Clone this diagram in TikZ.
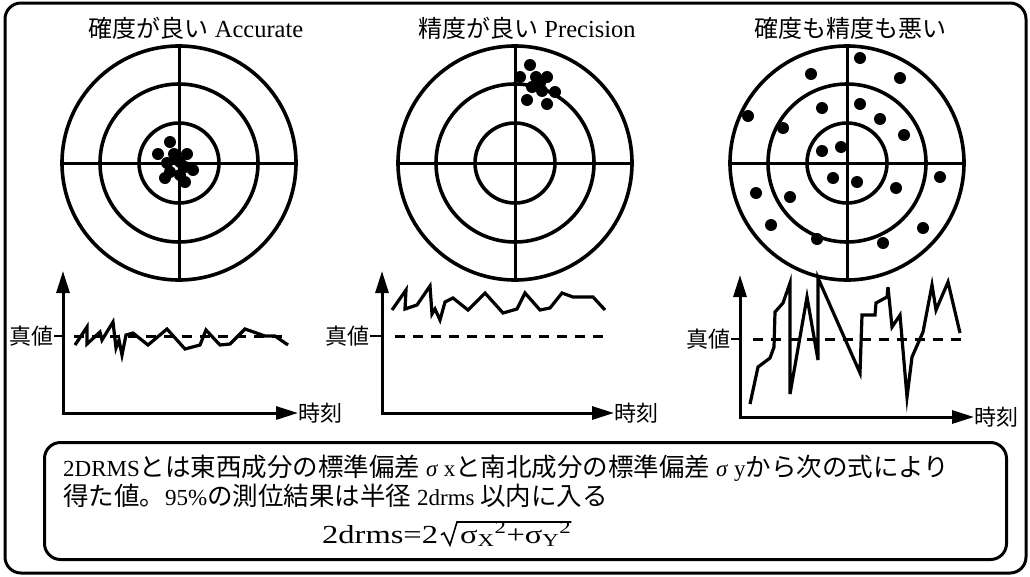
\documentclass[tikz,border=0pt]{standalone}
\usepackage{fontspec}
\setmainfont{Liberation Serif}
\newfontfamily\jp{Noto Sans CJK JP}
\newfontfamily\fserif[FakeStretch=1.25]{Liberation Serif}
\newcommand\jpt[1]{{\jp\fontsize{24}{26}\selectfont #1}}
\newcommand\jpb[1]{{\jp\fontsize{25.5}{27}\selectfont #1}}
\usetikzlibrary{arrows.meta}
\begin{document}
\begin{tikzpicture}[x=1pt,y=-1pt,
 ring/.style={line width=3.6pt},
 crossline/.style={line width=3pt},
 axisline/.style={line width=3pt,{Triangle[length=22pt,width=13pt]}-{Triangle[length=22pt,width=13pt]}},
 trace/.style={line width=3.2pt,line join=miter},
 truth/.style={line width=3pt,dash pattern=on 10pt off 8pt},
 ticktv/.style={line width=2.5pt},
 title/.style={font=\fontsize{24.5}{26}\selectfont, inner sep=0pt},
 lbl/.style={font=\jp\fontsize{22}{26}\selectfont, inner sep=0pt},
 frame/.style={line width=3pt,rounded corners=16pt},
 body/.style={font=\fontsize{23}{26}\selectfont, inner sep=0pt, anchor=base west},
 radical/.style={line width=1.6pt,line join=miter}
]
\useasboundingbox (0,0) rectangle (1030,576);
\draw[frame] (5,3) rectangle (1026,573);

% ---------- titles
\node[title] (t1) at (196,28) {\jpt{確度が良い} Accurate};
\node[title] (t2) at (527,28) {\jpt{精度が良い} Precision};
\node[title] (t3) at (850,28) {\jpt{確度も精度も悪い}};

% ---------- targets
\foreach \cx/\nm in {179/c1,515/c2,847/c3}{
  \coordinate (\nm) at (\cx,163);
  \draw[ring] (\nm) circle[radius=117pt];
  \draw[ring] (\nm) circle[radius=79pt];
  \draw[ring] (\nm) circle[radius=40pt];
  \draw[crossline] ([xshift=-117pt]\nm) -- ([xshift=117pt]\nm);
  \draw[crossline] ([yshift=117pt]\nm) -- ([yshift=-117pt]\nm);
}
% dots target 1
\foreach \p in {(170,142),(158,154),(174,154),(187,154),(167,163),(180,162),(176,158),(185,167),(193,170),(170,172),(165,178),(185,182),(180,175)}
  \fill \p circle[radius=6pt];
% dots target 2
\foreach \p in {(530,65),(520,77),(536,77),(547,77),(532,87),(542,91),(555,92),(527,100),(547,104),(540,83)}
  \fill \p circle[radius=6pt];
% dots target 3
\foreach \p in {(860,58),(811,74),(900,78),(748,116),(822,108),(860,104),(880,119),(783,128),(904,135),(822,151),(841,147),(833,178),(857,182),(940,177),(896,188),(756,193),(790,197),(771,225),(923,228),(817,239),(883,243)}
  \fill \p circle[radius=6pt];

% ---------- graph 1
\coordinate (o1) at (63,413);
\coordinate (y1) at (63,271);
\node[lbl,anchor=west] (tm1) at (298,413) {時刻};
\draw[axisline] (y1) -- (o1) -- (tm1.west);
\node[lbl,anchor=east] (tv1) at (54,336) {真値};
\draw[ticktv] (tv1.east) -- (63,336);
\draw[truth] (74,336) -- (288,336);
\draw[trace] (75,345) -- (87,327) -- (87,344) -- (100,332) -- (102,340) -- (113,322) -- (116,348) -- (119,340) -- (122,355) -- (126,335) -- (133,333) -- (148,345) -- (167,329) -- (185,349) -- (200,345) -- (206,330) -- (220,345) -- (230,344) -- (245,329) -- (265,336) -- (275,336) -- (288,345);

% ---------- graph 2
\coordinate (o2) at (382,413);
\coordinate (y2) at (382,271);
\node[lbl,anchor=west] (tm2) at (614,413) {時刻};
\draw[axisline] (y2) -- (o2) -- (tm2.west);
\node[lbl,anchor=east] (tv2) at (370,336) {真値};
\draw[ticktv] (tv2.east) -- (382,336);
\draw[truth] (395,336) -- (605,336);
\draw[trace] (392,310) -- (406,290) -- (405,309) -- (417,305) -- (430,286) -- (432,314) -- (435,309) -- (440,320) -- (445,302) -- (453,298) -- (468,310) -- (485,293) -- (503,313) -- (517,309) -- (525,293) -- (540,310) -- (550,308) -- (562,293) -- (573,297) -- (593,297) -- (605,310);

% ---------- graph 3
\coordinate (o3) at (740,417);
\coordinate (y3) at (740,275);
\node[lbl,anchor=west] (tm3) at (974,417) {時刻};
\draw[axisline] (y3) -- (o3) -- (tm3.west);
\node[lbl,anchor=east] (tv3) at (731,339) {真値};
\draw[ticktv] (tv3.east) -- (740,339);
\draw[truth] (753,339) -- (963,339);
\draw[trace] (750,404) -- (758,367) -- (770,358) -- (774,347) -- (775,312) -- (783,303) -- (790,283) -- (790,394) -- (807,297) -- (818,360) -- (818,278) -- (860,373) -- (862,315) -- (875,315) -- (876,303) -- (887,297) -- (888,287) -- (892,327) -- (900,315) -- (907,397) -- (912,357) -- (923,332) -- (932,285) -- (936,310) -- (948,282) -- (960,333);

% ---------- explanation box
\node[draw,line width=3pt,rounded corners=16pt,minimum width=962pt,minimum height=117pt,anchor=north west,inner sep=0pt] (box) at (43,441) {};
\node[body] (l1) at (63,476) {2DRMS\jpb{とは東西成分の標準偏差} \textit{σ} x\jpb{と南北成分の標準偏差} \textit{σ} y\jpb{から次の式により}};
\node[body] (l2) at (63,505) {\jpb{得た値。}95\%\jpb{の測位結果は半径} 2drms \jpb{以内に入る}};
\node[inner sep=0pt,anchor=base west,font=\fserif\fontsize{26}{30}\selectfont] (f1) at (322,543) {2drms=2};
\node[inner sep=0pt,anchor=base west,font=\fserif\fontsize{26}{30}\selectfont] (f2) at (460,543) {σ\textsubscript{X}\textsuperscript{2}+σ\textsubscript{Y}\textsuperscript{2}};
\coordinate (r0) at (441,535);
\coordinate (r1) at (444,533);
\coordinate (r2) at (450,545);
\coordinate (r3) at (457,522);
\draw[radical] (r0) -- (r1) -- (r2) -- (r3) -- (r3 -| f2.east);
\end{tikzpicture}
\end{document}
